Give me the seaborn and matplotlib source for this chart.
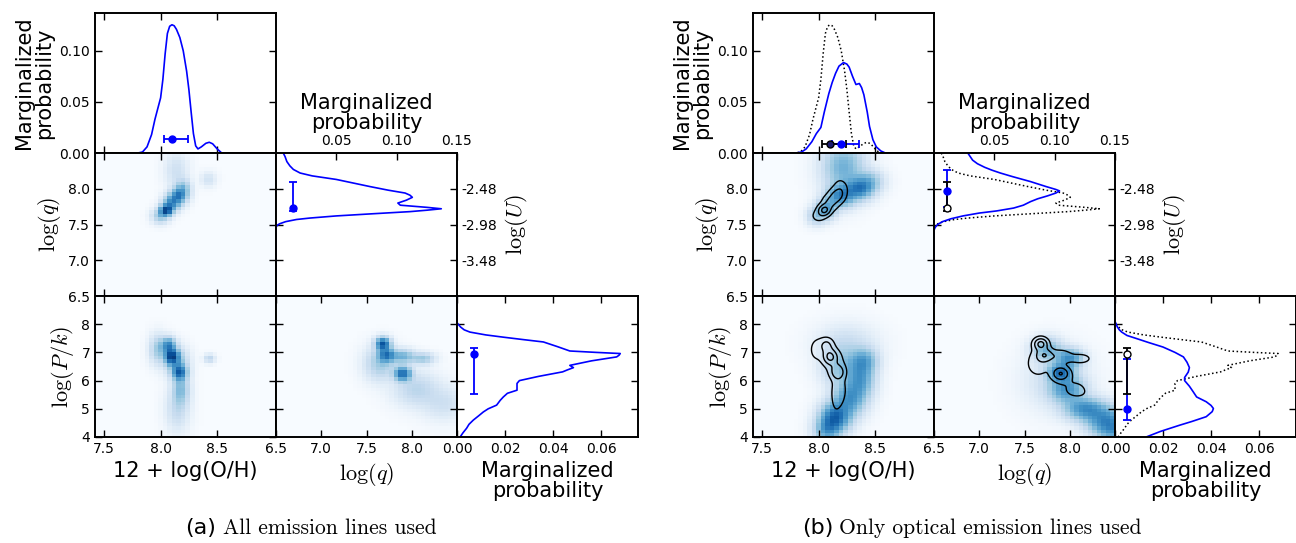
import numpy as np
import matplotlib
matplotlib.use("Agg")
import matplotlib.pyplot as plt
from matplotlib.colors import PowerNorm
import seaborn as sns

sns.set_style("ticks")
plt.rcParams["font.family"] = ["DejaVu Sans"]
plt.rcParams["mathtext.fontset"] = "cm"
for k in ["text.color", "axes.labelcolor", "xtick.color", "ytick.color", "axes.edgecolor"]:
    plt.rcParams[k] = "black"

# ---------------- marginal curves ----------------
oh_vals_all = [7.42, 7.80, 7.84, 7.88, 7.92, 7.95, 8.00, 8.02, 8.04, 8.06, 8.08, 8.10, 8.12, 8.14, 8.17,
               8.20, 8.23, 8.25, 8.27, 8.29, 8.31, 8.33, 8.36, 8.40, 8.43, 8.46, 8.50, 8.54, 9.02]
oh_prob_all = [0.0, 0.0, 0.001, 0.006, 0.018, 0.033, 0.054, 0.072, 0.097, 0.117, 0.124, 0.1255, 0.1245, 0.121, 0.113,
               0.100, 0.080, 0.062, 0.040, 0.019, 0.007, 0.004, 0.006, 0.0095, 0.0105, 0.009, 0.004, 0.0, 0.0]
oh_vals_opt = [7.42, 7.80, 7.85, 7.89, 7.94, 7.98, 8.02, 8.05, 8.09, 8.12, 8.15, 8.18, 8.22, 8.25, 8.27,
               8.30, 8.33, 8.36, 8.38, 8.40, 8.43, 8.45, 8.48, 8.51, 8.55, 8.59, 9.02]
oh_prob_opt = [0.0, 0.0, 0.001, 0.004, 0.011, 0.019, 0.025, 0.040, 0.058, 0.069, 0.078, 0.085, 0.0885, 0.087, 0.084,
               0.075, 0.067, 0.068, 0.064, 0.057, 0.040, 0.026, 0.013, 0.006, 0.002, 0.0, 0.0]

logq_vals_all = [8.50, 8.45, 8.38, 8.32, 8.27, 8.22, 8.18, 8.13, 8.08, 8.03, 7.98, 7.94, 7.91, 7.88, 7.84,
                 7.80, 7.77, 7.74, 7.72, 7.70, 7.68, 7.65, 7.62, 7.59, 7.57, 7.54, 7.51, 7.49, 7.46, 6.50]
logq_prob_all = [0.006, 0.0075, 0.009, 0.0115, 0.0144, 0.020, 0.030, 0.050, 0.064, 0.078, 0.093, 0.107, 0.111, 0.113, 0.108,
                 0.101, 0.103, 0.125, 0.137, 0.125, 0.111, 0.080, 0.050, 0.028, 0.017, 0.008, 0.003, 0.001, 0.0, 0.0]
logq_vals_opt = [8.50, 8.45, 8.40, 8.35, 8.30, 8.26, 8.22, 8.17, 8.10, 8.03, 7.99, 7.97, 7.94, 7.90,
                 7.86, 7.82, 7.77, 7.73, 7.69, 7.66, 7.62, 7.58, 7.54, 7.50, 7.46, 7.42, 6.50]
logq_prob_opt = [0.028, 0.030, 0.032, 0.036, 0.042, 0.048, 0.055, 0.065, 0.080, 0.093, 0.101, 0.104, 0.101, 0.094,
                 0.086, 0.080, 0.074, 0.066, 0.052, 0.0375, 0.024, 0.014, 0.007, 0.003, 0.001, 0.0, 0.0]

pk_vals_all = [9.0, 8.06, 8.02, 7.90, 7.80, 7.72, 7.62, 7.54, 7.45, 7.37, 7.20, 7.05, 7.00, 6.96, 6.90, 6.84,
               6.70, 6.54, 6.46, 6.38, 6.31, 6.15, 6.00, 5.90, 5.66, 5.55, 5.42, 5.30, 5.13, 5.00, 4.89,
               4.75, 4.60, 4.45, 4.31, 4.15, 4.00]
pk_prob_all = [0.0, 0.0, 0.0003, 0.0015, 0.003, 0.0054, 0.012, 0.0193, 0.028, 0.036, 0.042, 0.047, 0.058, 0.068, 0.0675, 0.0665,
               0.056, 0.047, 0.0485, 0.046, 0.044, 0.034, 0.026, 0.025, 0.025, 0.021, 0.0193, 0.018, 0.0165, 0.013, 0.011,
               0.009, 0.0068, 0.005, 0.004, 0.0025, 0.0013]
pk_vals_opt = [9.0, 8.10, 8.02, 7.90, 7.80, 7.72, 7.60, 7.49, 7.35, 7.19, 7.00, 6.84, 6.65, 6.46, 6.30,
               6.11, 6.00, 5.80, 5.60, 5.42, 5.25, 5.12, 5.01, 4.90, 4.72, 4.55, 4.42, 4.20, 4.00]
pk_prob_opt = [0.0, 0.0, 0.0004, 0.001, 0.0018, 0.0028, 0.005, 0.009, 0.014, 0.020, 0.025, 0.0285, 0.030, 0.031, 0.0305,
               0.029, 0.029, 0.031, 0.0326, 0.034, 0.038, 0.040, 0.041, 0.0405, 0.038, 0.032, 0.027, 0.019, 0.013]

# best estimates: [best, low, high, marker position on probability axis]
oh_est_all_a = [8.10, 8.03, 8.24, 0.0134]
oh_est_all_b = [8.10, 8.03, 8.24, 0.0088]
oh_est_opt = [8.20, 8.12, 8.36, 0.0088]
logq_est_all_a = [7.73, 7.69, 8.09, 0.0138]
logq_est_all_b = [7.73, 7.69, 8.09, 0.011]
logq_est_opt = [7.97, 7.75, 8.26, 0.011]
pk_est_all_a = [6.96, 5.52, 7.17, 0.0071]
pk_est_all_b = [6.96, 5.52, 7.17, 0.0049]
pk_est_opt = [5.01, 4.60, 6.76, 0.0049]

# ---------------- 2D posterior blobs (x, y, sx, sy, density) ----------------
blobs_q_oh_all = [(8.05, 7.70, 0.035, 0.050, 0.85), (8.10, 7.80, 0.045, 0.070, 0.45),
                  (8.16, 7.90, 0.045, 0.070, 0.50), (8.20, 8.00, 0.040, 0.080, 0.25),
                  (8.14, 8.25, 0.060, 0.150, 0.07), (8.42, 8.13, 0.040, 0.060, 0.06),
                  (8.00, 7.62, 0.045, 0.060, 0.22)]
blobs_pk_oh_all = [(8.10, 6.85, 0.040, 0.17, 0.80), (8.07, 7.25, 0.040, 0.17, 0.50),
                   (8.17, 6.30, 0.040, 0.17, 0.60), (8.14, 6.65, 0.060, 0.30, 0.25),
                   (8.18, 5.70, 0.045, 0.35, 0.25), (8.15, 5.00, 0.060, 0.45, 0.10),
                   (7.98, 7.10, 0.045, 0.30, 0.20), (8.43, 6.78, 0.030, 0.09, 0.12)]
blobs_pk_q_all = [(7.68, 7.30, 0.050, 0.14, 0.75), (7.72, 6.90, 0.060, 0.16, 0.55),
                  (7.90, 6.25, 0.060, 0.16, 0.65), (7.90, 6.85, 0.080, 0.15, 0.30),
                  (8.12, 6.78, 0.080, 0.12, 0.20), (8.05, 5.70, 0.150, 0.35, 0.12),
                  (8.35, 5.20, 0.150, 0.35, 0.07), (7.65, 6.60, 0.100, 0.35, 0.18)]

blobs_q_oh_opt = [(8.36, 8.00, 0.075, 0.095, 0.50), (8.20, 7.90, 0.075, 0.095, 0.50),
                  (8.07, 7.72, 0.055, 0.085, 0.38), (7.98, 7.62, 0.050, 0.075, 0.18),
                  (8.22, 8.30, 0.110, 0.220, 0.30), (8.45, 8.10, 0.075, 0.095, 0.22)]
blobs_pk_oh_opt = [(8.15, 4.70, 0.080, 0.32, 0.65), (8.08, 4.25, 0.070, 0.28, 0.38),
                   (8.27, 5.35, 0.085, 0.38, 0.42), (8.37, 6.05, 0.075, 0.42, 0.38),
                   (8.40, 6.70, 0.075, 0.28, 0.32), (8.20, 6.50, 0.100, 0.42, 0.22),
                   (8.25, 7.30, 0.150, 0.40, 0.08)]
blobs_pk_q_opt = [(7.90, 6.30, 0.090, 0.20, 0.55), (8.00, 6.80, 0.090, 0.20, 0.45),
                  (7.75, 7.10, 0.100, 0.25, 0.30), (7.97, 5.70, 0.120, 0.30, 0.40),
                  (8.17, 5.00, 0.140, 0.25, 0.45), (8.40, 4.60, 0.140, 0.30, 0.45),
                  (8.50, 4.20, 0.130, 0.25, 0.32), (7.85, 6.00, 0.200, 0.60, 0.08)]

contour_levels = [0.13, 0.42, 0.82]

# ---------------- helpers ----------------
OH_LIM = (7.42, 9.02)
Q_LIM = (6.5, 8.5)
PK_LIM = (4.0, 9.0)
FW, FH = 1296, 543
BLUE = "#0000ff"


def density(blobs, xlim, ylim, nx, ny, normalize=False):
    xe = np.linspace(xlim[0], xlim[1], nx + 1)
    ye = np.linspace(ylim[0], ylim[1], ny + 1)
    xc = 0.5 * (xe[1:] + xe[:-1])
    yc = 0.5 * (ye[1:] + ye[:-1])
    X, Y = np.meshgrid(xc, yc)
    Z = np.zeros_like(X)
    for cx, cy, sx, sy, a in blobs:
        Z += a * np.exp(-0.5 * ((X - cx) / sx) ** 2 - 0.5 * ((Y - cy) / sy) ** 2)
    if normalize:
        Z = Z / Z.max()
    return X, Y, Z


def px_axes(fig, x, ytop, w, h):
    return fig.add_axes([x / FW, 1 - (ytop + h) / FH, w / FW, h / FH])


def style(ax):
    for s in ax.spines.values():
        s.set_linewidth(1.4)
        s.set_color("black")
    ax.tick_params(direction="in", length=5, width=1, top=True, right=True,
                   labelsize=10, colors="black")


def heat(ax, blobs, xlim, ylim, nx=40, ny=40):
    _, _, Z = density(blobs, xlim, ylim, nx, ny)
    ax.imshow(np.clip(Z, 0, 1), extent=[xlim[0], xlim[1], ylim[0], ylim[1]], origin="lower",
              aspect="auto", cmap="Blues", norm=PowerNorm(gamma=0.6, vmin=0, vmax=1),
              interpolation="nearest")
    ax.set_xlim(*xlim)
    ax.set_ylim(*ylim)


def contours(ax, blobs, xlim, ylim):
    X, Y, Z = density(blobs, xlim, ylim, 200, 200, normalize=True)
    ax.contour(X, Y, Z, levels=contour_levels, colors="black", linewidths=1.0)


def vline_curve(ax, vals, probs, **kw):
    sns.lineplot(x=vals, y=probs, ax=ax, sort=False, estimator=None, **kw)


def hline_curve(ax, vals, probs, **kw):
    sns.lineplot(x=probs, y=vals, ax=ax, sort=False, estimator=None, orient="y", **kw)


def hbar(ax, est, color, mfc):
    b, lo, hi, pos = est
    ax.errorbar([b], [pos], xerr=[[b - lo], [hi - b]], fmt="o", color=color, mfc=mfc,
                mec=color, ms=5, capsize=3, elinewidth=1.3, capthick=1.3)


def vbar(ax, est, color, mfc):
    b, lo, hi, pos = est
    ax.errorbar([pos], [b], yerr=[[b - lo], [hi - b]], fmt="o", color=color, mfc=mfc,
                mec=color, ms=5, capsize=3, elinewidth=1.3, capthick=1.3)


def corner(fig, x0, optical):
    cw = 181
    rows = [(13, 140), (153, 143), (296, 141)]
    ax00 = px_axes(fig, x0, rows[0][0], cw, rows[0][1])
    ax10 = px_axes(fig, x0, rows[1][0], cw, rows[1][1])
    ax11 = px_axes(fig, x0 + cw, rows[1][0], cw, rows[1][1])
    ax20 = px_axes(fig, x0, rows[2][0], cw, rows[2][1])
    ax21 = px_axes(fig, x0 + cw, rows[2][0], cw, rows[2][1])
    ax22 = px_axes(fig, x0 + 2 * cw, rows[2][0], cw, rows[2][1])

    # top marginal: O/H
    if optical:
        vline_curve(ax00, oh_vals_all, oh_prob_all, color="black", linestyle=":", linewidth=1.1)
        vline_curve(ax00, oh_vals_opt, oh_prob_opt, color=BLUE, linewidth=1.2)
        hbar(ax00, oh_est_opt, BLUE, BLUE)
        hbar(ax00, oh_est_all_b, "black", "#1a1a6e")
    else:
        vline_curve(ax00, oh_vals_all, oh_prob_all, color=BLUE, linewidth=1.2)
        hbar(ax00, oh_est_all_a, BLUE, BLUE)
    ax00.set_xlim(*OH_LIM)
    ax00.set_ylim(0, 0.137)
    ax00.set_xticks([7.5, 8.0, 8.5])
    ax00.set_yticks([0.0, 0.05, 0.10])
    ax00.set_yticklabels(["0.00", "0.05", "0.10"])
    style(ax00)
    ax00.tick_params(labelbottom=False)
    ax00.set_ylabel("Marginalized\nprobability", fontsize=15, linespacing=1.0)
    ax00.set_xlabel("")

    # logq vs O/H
    if optical:
        heat(ax10, blobs_q_oh_opt, OH_LIM, Q_LIM)
        contours(ax10, blobs_q_oh_all, OH_LIM, Q_LIM)
    else:
        heat(ax10, blobs_q_oh_all, OH_LIM, Q_LIM)
    ax10.set_xticks([7.5, 8.0, 8.5])
    ax10.set_yticks([6.5, 7.0, 7.5, 8.0])
    ax10.set_yticklabels(["6.5", "7.0", "7.5", "8.0"])
    style(ax10)
    ax10.tick_params(labelbottom=False)
    ax10.set_ylabel(r"$\log(q)$", fontsize=16)

    # logq marginal (rotated)
    if optical:
        hline_curve(ax11, logq_vals_all, logq_prob_all, color="black", linestyle=":", linewidth=1.1)
        hline_curve(ax11, logq_vals_opt, logq_prob_opt, color=BLUE, linewidth=1.2)
        vbar(ax11, logq_est_opt, BLUE, BLUE)
        vbar(ax11, logq_est_all_b, "black", "white")
    else:
        hline_curve(ax11, logq_vals_all, logq_prob_all, color=BLUE, linewidth=1.2)
        vbar(ax11, logq_est_all_a, BLUE, BLUE)
    ax11.set_xlim(0, 0.15)
    ax11.set_ylim(*Q_LIM)
    ax11.set_xticks([0.05, 0.10, 0.15])
    ax11.set_xticklabels(["0.05", "0.10", "0.15"])
    ax11.set_yticks([7.0, 7.5, 8.0])
    ax11.set_yticklabels(["-3.48", "-2.98", "-2.48"])
    style(ax11)
    ax11.tick_params(labeltop=True, labelbottom=False, bottom=False,
                     labelleft=False, labelright=True)
    ax11.xaxis.set_label_position("top")
    ax11.set_xlabel("Marginalized\nprobability", fontsize=15, linespacing=1.0, labelpad=4)
    ax11.yaxis.set_label_position("right")
    ax11.set_ylabel(r"$\log(U)$", fontsize=16, labelpad=4)

    # logP/k vs O/H
    if optical:
        heat(ax20, blobs_pk_oh_opt, OH_LIM, PK_LIM)
        contours(ax20, blobs_pk_oh_all, OH_LIM, PK_LIM)
    else:
        heat(ax20, blobs_pk_oh_all, OH_LIM, PK_LIM)
    ax20.set_xticks([7.5, 8.0, 8.5])
    ax20.set_xticklabels(["7.5", "8.0", "8.5"])
    ax20.set_yticks([4, 5, 6, 7, 8])
    style(ax20)
    ax20.set_xlabel("12 + log(O/H)", fontsize=15)
    ax20.set_ylabel(r"$\log(P/k)$", fontsize=16)

    # logP/k vs logq
    if optical:
        heat(ax21, blobs_pk_q_opt, Q_LIM, PK_LIM)
        contours(ax21, blobs_pk_q_all, Q_LIM, PK_LIM)
    else:
        heat(ax21, blobs_pk_q_all, Q_LIM, PK_LIM)
    ax21.set_xticks([6.5, 7.0, 7.5, 8.0])
    ax21.set_xticklabels(["6.5", "7.0", "7.5", "8.0"])
    ax21.set_yticks([5, 6, 7, 8])
    style(ax21)
    ax21.tick_params(labelleft=False)
    ax21.set_xlabel(r"$\log(q)$", fontsize=16)

    # logP/k marginal (rotated)
    if optical:
        hline_curve(ax22, pk_vals_all, pk_prob_all, color="black", linestyle=":", linewidth=1.1)
        hline_curve(ax22, pk_vals_opt, pk_prob_opt, color=BLUE, linewidth=1.2)
        vbar(ax22, pk_est_opt, BLUE, BLUE)
        vbar(ax22, pk_est_all_b, "black", "white")
    else:
        hline_curve(ax22, pk_vals_all, pk_prob_all, color=BLUE, linewidth=1.2)
        vbar(ax22, pk_est_all_a, BLUE, BLUE)
    ax22.set_xlim(0, 0.0754)
    ax22.set_ylim(*PK_LIM)
    ax22.set_xticks([0.0, 0.02, 0.04, 0.06])
    ax22.set_xticklabels(["0.00", "0.02", "0.04", "0.06"])
    ax22.set_yticks([5, 6, 7, 8])
    style(ax22)
    ax22.tick_params(labelleft=False)
    ax22.set_xlabel("Marginalized\nprobability", fontsize=15, linespacing=1.0)
    ax22.set_ylabel("")


fig = plt.figure(figsize=(FW / 100, FH / 100), dpi=100)
corner(fig, 95, optical=False)
corner(fig, 753, optical=True)

cap_y = 1 - 528 / FH
fig.text(185 / FW, cap_y, "(a)", fontsize=16, ha="left", va="center")
fig.text(223 / FW, cap_y, "All emission lines used", fontsize=15.5, family="cmr10", ha="left", va="center")
fig.text(802 / FW, cap_y, "(b)", fontsize=16, ha="left", va="center")
fig.text(839 / FW, cap_y, "Only optical emission lines used", fontsize=15.5, family="cmr10", ha="left", va="center")

fig.savefig("out.png", dpi=100)
